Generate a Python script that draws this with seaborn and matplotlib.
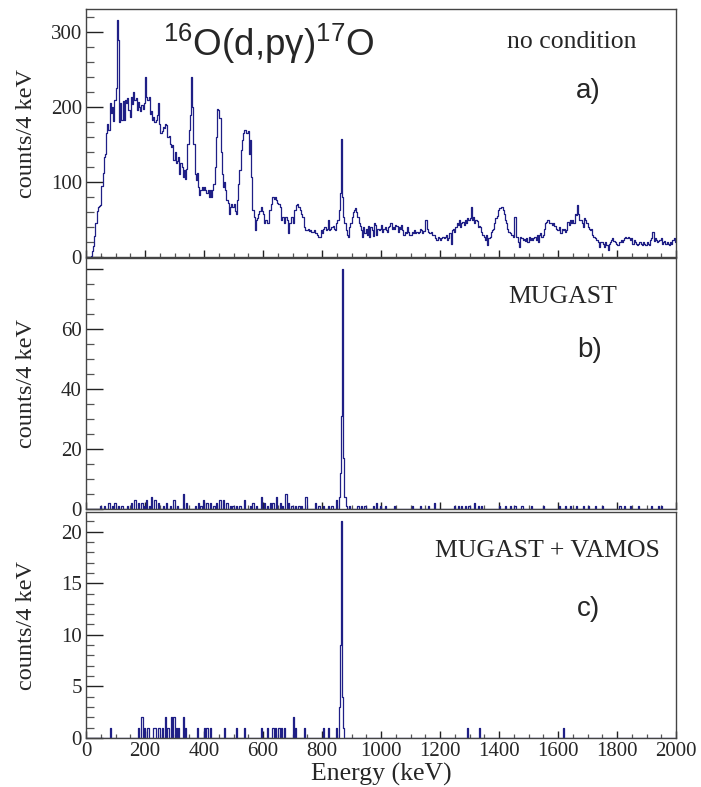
import numpy as np
import pandas as pd
import matplotlib
matplotlib.use("Agg")
import matplotlib.pyplot as plt
import seaborn as sns
from matplotlib.ticker import MultipleLocator, FixedLocator, FixedFormatter

# ---------------- data ----------------
BIN_WIDTH = 4  # keV
E_MIN, E_MAX = 0, 2000

# a) no condition : counts per 4 keV bin, 0..2000 keV (25 bins per 100 keV)
counts_a = [
    0, 0, 0, 0, 2, 8, 15, 28, 45, 62, 67, 68, 70, 95, 112, 133, 138, 165, 178, 170, 205, 192, 200, 182, 210,          # 0-100
    225, 316, 290, 180, 205, 183, 208, 183, 210, 205, 212, 196, 187, 214, 204, 220, 209, 212, 196, 207, 200, 195, 203, 198, 205,  # 100-200
    240, 214, 209, 214, 191, 195, 183, 187, 180, 183, 190, 205, 178, 165, 168, 173, 172, 178, 176, 160, 162, 151, 147, 150, 129,  # 200-300
    140, 125, 128, 134, 111, 125, 120, 107, 116, 104, 118, 151, 170, 190, 240, 200, 151, 111, 103, 112, 94, 83, 89, 94, 89,      # 300-400
    94, 89, 85, 89, 80, 89, 80, 89, 98, 120, 160, 198, 196, 185, 140, 111, 94, 100, 89, 76, 72, 58, 67, 71, 67,                 # 400-500
    71, 62, 58, 76, 98, 116, 143, 156, 165, 169, 169, 165, 168, 138, 156, 107, 63, 54, 36, 49, 52, 58, 62, 67, 62,              # 500-600
    58, 45, 50, 45, 45, 63, 63, 71, 80, 78, 80, 76, 72, 71, 67, 49, 54, 54, 45, 54, 50, 32, 45, 45, 54,                        # 600-700
    45, 63, 63, 69, 71, 67, 63, 58, 54, 54, 40, 36, 36, 38, 35, 36, 33, 34, 36, 32, 32, 30, 27, 27, 36,                        # 700-800
    32, 38, 40, 36, 38, 49, 36, 38, 40, 42, 38, 36, 45, 50, 63, 85, 158, 80, 54, 45, 36, 30, 27, 40, 45,                       # 800-900
    54, 60, 63, 65, 60, 54, 45, 42, 36, 27, 40, 32, 38, 30, 42, 27, 40, 36, 28, 45, 43, 29, 38, 36, 38,                        # 900-1000
    43, 34, 38, 40, 36, 34, 40, 42, 45, 38, 40, 38, 43, 42, 34, 40, 38, 43, 36, 29, 34, 32, 40, 34, 29,                        # 1000-1100
    29, 34, 32, 36, 32, 34, 32, 34, 38, 36, 32, 35, 49, 49, 38, 34, 32, 34, 30, 29, 29, 26, 23, 27, 25,                        # 1100-1200
    23, 25, 27, 25, 27, 29, 23, 25, 32, 18, 36, 38, 34, 40, 45, 43, 49, 40, 45, 47, 43, 49, 45, 52, 50,                        # 1200-1300
    52, 67, 50, 54, 45, 50, 48, 40, 42, 40, 34, 30, 27, 23, 29, 16, 25, 27, 34, 36, 38, 45, 52, 55, 63,                        # 1300-1400
    65, 66, 67, 63, 58, 50, 45, 38, 34, 32, 30, 29, 27, 54, 27, 27, 20, 14, 27, 25, 23, 24, 21, 25, 20,                        # 1400-1500
    27, 23, 25, 23, 25, 27, 23, 29, 20, 29, 32, 27, 30, 38, 45, 47, 49, 45, 45, 45, 43, 45, 42, 38, 36,                        # 1500-1600
    36, 40, 32, 38, 36, 38, 34, 36, 47, 43, 49, 45, 49, 45, 58, 56, 69, 58, 49, 49, 45, 40, 52, 50, 45,                        # 1600-1700
    40, 38, 36, 38, 29, 27, 25, 23, 23, 20, 14, 20, 20, 18, 14, 20, 16, 9, 18, 20, 23, 25, 22, 20, 18,                         # 1700-1800
    16, 16, 20, 23, 20, 23, 25, 27, 25, 27, 25, 23, 25, 18, 23, 20, 18, 16, 18, 20, 18, 16, 20, 18, 16,                        # 1800-1900
    20, 18, 16, 23, 25, 34, 22, 25, 23, 20, 22, 23, 25, 18, 20, 21, 18, 20, 18, 16, 20, 18, 23, 25, 20,                        # 1900-2000
]

# b) MUGAST : non-empty bins (energy keV, counts)
energy_b = [48, 60, 76, 88, 98, 110, 122, 143, 155, 166, 177, 189, 198, 206, 214, 223, 234, 245, 262, 273,
            285, 296, 308, 330, 341, 370, 381, 390, 398, 409, 420, 432, 443, 454, 466, 477, 488, 499, 511, 522,
            539, 556, 567, 578, 595, 607, 615, 624, 635, 646, 658, 667, 678, 686, 697, 708, 720, 731, 746, 776,
            788, 805, 821, 833, 850, 858, 862, 866, 870, 874, 878, 882, 895, 923, 935, 947, 974, 985, 997, 1014,
            1047, 1104, 1132, 1160, 1183, 1251, 1262, 1273, 1285, 1296, 1319, 1330, 1341, 1403, 1420, 1438, 1455,
            1477, 1511, 1550, 1607, 1624, 1641, 1663, 1686, 1703, 1726, 1748, 1810, 1827, 1844, 1872, 1917, 1940, 1951]
counts_b = [1, 1, 2, 1, 2, 1, 1, 1, 2, 3, 2, 2, 1, 3, 1, 4, 3, 2, 1, 2,
            1, 3, 1, 5, 2, 1, 2, 1, 3, 2, 2, 1, 2, 3, 3, 2, 1, 1, 1, 1,
            3, 1, 2, 1, 4, 2, 1, 2, 2, 4, 2, 1, 5, 2, 1, 1, 1, 1, 4, 2,
            1, 1, 1, 1, 3, 4, 12, 31, 80, 17, 4, 1, 1, 1, 1, 1, 1, 2, 1, 1,
            1, 1, 1, 1, 2, 1, 1, 1, 1, 1, 2, 1, 1, 1, 1, 1, 1,
            1, 1, 1, 1, 1, 1, 1, 1, 1, 1, 1, 1, 1, 1, 1, 1, 1, 1]

# c) MUGAST + VAMOS : non-empty bins (energy keV, counts)
energy_c = [81, 177, 189, 198, 211, 228, 234, 245, 251, 259, 270, 279, 290, 296, 307, 313, 328, 336, 377, 403,
            409, 423, 468, 511, 539, 592, 615, 635, 643, 652, 663, 675, 703, 708, 742, 805, 821, 850, 858, 862,
            866, 870, 874, 1293, 1334, 1618]
counts_c = [1, 1, 2, 1, 1, 1, 1, 1, 1, 1, 2, 1, 2, 2, 1, 1, 2, 1, 1, 1,
            1, 1, 1, 1, 1, 1, 1, 1, 1, 1, 1, 1, 2, 1, 1, 1, 1, 1, 3, 9,
            21, 4, 1, 1, 1, 1]

panel_labels = ["a)", "b)", "c)"]
conditions = ["no condition", "MUGAST", "MUGAST + VAMOS"]
x_ticks = [0, 200, 400, 600, 800, 1000, 1200, 1400, 1600, 1800, 2000]
y_ticks_a = [0, 100, 200, 300]
y_ticks_b = [0, 20, 40, 60, 80]
y_ticklabels_b = ["0", "20", "40", "60", ""]
y_ticks_c = [0, 5, 10, 15, 20]

# ---------------- style ----------------
W, H = 701, 787
NAVY = "#1f1f86"
sns.set_style("ticks")
plt.rcParams["font.family"] = ["Liberation Serif", "DejaVu Serif"]
plt.rcParams["mathtext.fontset"] = "custom"
plt.rcParams["mathtext.rm"] = "Liberation Sans"
plt.rcParams["mathtext.it"] = "Liberation Sans:italic"

fig = plt.figure(figsize=(W / 100, H / 100), dpi=100)
fig.patch.set_facecolor("white")

def px_axes(top, bottom, left=86, right=676):
    return [left / W, 1 - bottom / H, (right - left) / W, (bottom - top) / H]

axes = [fig.add_axes(px_axes(9, 257)),
        fig.add_axes(px_axes(258, 509)),
        fig.add_axes(px_axes(512, 738))]

centers_a = [E_MIN + BIN_WIDTH * (i + 0.5) for i in range(len(counts_a))]

df_a = pd.DataFrame({"energy": centers_a, "counts": counts_a})
df_b = pd.DataFrame({"energy": energy_b, "counts": counts_b})
df_c = pd.DataFrame({"energy": energy_c, "counts": counts_c})

ylims = [331, 83.7, 21.9]
yminor = [20, 5, 1]
yticks = [y_ticks_a, y_ticks_b, y_ticks_c]
yticklabels = [[str(v) for v in y_ticks_a], y_ticklabels_b, [str(v) for v in y_ticks_c]]

for ax, df, ymax, ymin_step, yt, ytl in zip(axes, [df_a, df_b, df_c], ylims, yminor, yticks, yticklabels):
    sns.histplot(data=df, x="energy", weights="counts", binwidth=BIN_WIDTH,
                 binrange=(E_MIN, E_MAX), element="step",
                 fill=False, color=NAVY, linewidth=0.9, ax=ax)
    ax.set_xlim(E_MIN, E_MAX)
    ax.set_ylim(0, ymax)
    ax.set_ylabel("counts/4 keV", fontsize=17.5)
    ax.yaxis.set_label_coords(-0.083, 0.5)
    ax.set_xlabel("")
    ax.yaxis.set_major_locator(FixedLocator(yt))
    ax.yaxis.set_major_formatter(FixedFormatter(ytl))
    ax.yaxis.set_minor_locator(MultipleLocator(ymin_step))
    ax.xaxis.set_major_locator(FixedLocator(x_ticks))
    ax.xaxis.set_minor_locator(MultipleLocator(50))
    ax.tick_params(axis="y", which="major", direction="in", length=12, width=1.0,
                   color="#222222", labelsize=15, pad=3, left=True, right=False)
    ax.tick_params(axis="y", which="minor", direction="in", length=6, width=0.9,
                   color="#555555", left=True, right=False)
    ax.tick_params(axis="x", which="major", direction="in", length=5, width=1.0,
                   color="#222222", labelsize=15, pad=3, bottom=True, top=False)
    ax.tick_params(axis="x", which="minor", direction="in", length=3, width=0.9,
                   color="#555555", bottom=True, top=False)
    for sp in ax.spines.values():
        sp.set_visible(True)
        sp.set_color("#444444")
        sp.set_linewidth(1.0)

axes[0].tick_params(axis="x", labelbottom=False)
axes[1].tick_params(axis="x", labelbottom=False)
axes[2].set_xlabel("Energy (keV)", fontsize=18.5, labelpad=1)

def ftext(x, y, s, **kw):
    fig.text(x / W, 1 - y / H, s, ha="left", va="baseline", **kw)

ftext(163, 56, r"$^{16}$O(d,pγ)$^{17}$O", fontsize=26.5, family=["Liberation Sans", "DejaVu Sans"])
ftext(507, 48, conditions[0], fontsize=18.5)
ftext(508, 303, conditions[1], fontsize=18.5)
ftext(435, 557, conditions[2], fontsize=18.5)
ftext(576, 98, panel_labels[0], fontsize=20, family=["Liberation Sans", "DejaVu Sans"])
ftext(577, 357, panel_labels[1], fontsize=20, family=["Liberation Sans", "DejaVu Sans"])
ftext(577, 616, panel_labels[2], fontsize=20, family=["Liberation Sans", "DejaVu Sans"])

fig.savefig("out.png", dpi=100, facecolor="white")
